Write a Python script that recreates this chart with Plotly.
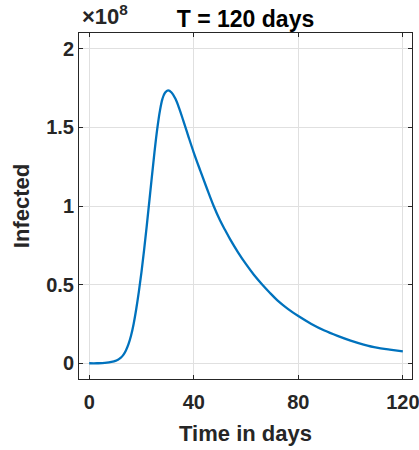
import plotly.graph_objects as go

# Data (infected counts in units of 1e8)
days = [0, 3, 6, 9, 10, 11, 12, 13, 14, 15, 16, 17, 18, 19, 20, 21, 22, 23,
        24, 25, 26, 27, 28, 29, 30.2, 31.5, 33, 34.5, 36, 38, 40, 42.5, 45,
        47.5, 50, 52, 54, 57, 60, 63, 66, 69, 72, 76, 80, 85, 90, 95, 100,
        105, 110, 115, 120]
infected_1e8 = [0, 0.0, 0.002, 0.01, 0.015, 0.022, 0.034, 0.052, 0.08, 0.12,
                0.175, 0.25, 0.345, 0.455, 0.58, 0.72, 0.87, 1.03, 1.19, 1.345,
                1.485, 1.60, 1.68, 1.72, 1.735, 1.722, 1.682, 1.618, 1.543, 1.44,
                1.34, 1.225, 1.113, 1.005, 0.911, 0.847, 0.786, 0.704, 0.630,
                0.563, 0.504, 0.450, 0.400, 0.346, 0.30, 0.25, 0.208, 0.174,
                0.144, 0.119, 0.099, 0.087, 0.076]

x_ticks = [0, 40, 80, 120]
y_ticks = [0, 0.5, 1, 1.5, 2]
y_tick_labels = ["0", "0.5", "1", "1.5", "2"]

title_text = "T = 120 days"
x_label = "Time in days"
y_label = "Infected"

FONT = "Liberation Sans, Arial, sans-serif"
TXT = "#262626"
GRID = "#e0e0e0"

fig = go.Figure()
fig.add_trace(go.Scatter(
    x=days, y=infected_1e8, mode="lines",
    line=dict(color="#0072BD", width=2.3, shape="spline", smoothing=1.0),
    showlegend=False, hoverinfo="skip"))

axis_common = dict(
    showline=True, linecolor=TXT, linewidth=1, mirror="ticks",
    ticks="inside", ticklen=4, tickcolor=TXT, tickwidth=1,
    showgrid=True, gridcolor=GRID, gridwidth=1, zeroline=False,
    automargin=False, ticklabeloverflow="allow",
    tickfont=dict(family=FONT, size=20, color=TXT, weight="bold"),
)

fig.update_layout(
    width=419, height=450,
    margin=dict(l=79, r=7, t=33, b=71),
    paper_bgcolor="white", plot_bgcolor="white",
    xaxis=dict(range=[-3.9, 123.5], tickvals=x_ticks, ticklabelstandoff=5,
               title=dict(text=x_label, standoff=13,
                          font=dict(family=FONT, size=22, color=TXT, weight="bold")),
               **axis_common),
    yaxis=dict(range=[-0.1, 2.1], tickvals=y_ticks, ticktext=y_tick_labels,
               title=dict(text=y_label, standoff=10,
                          font=dict(family=FONT, size=22, color=TXT, weight="bold")),
               **axis_common),
    title=dict(text=title_text, x=0.5, xref="paper", xanchor="center",
               y=1, yref="paper", yanchor="bottom", pad=dict(b=6),
               automargin=False,
               font=dict(family=FONT, size=23, color="#000000", weight="bold")),
    annotations=[dict(text="×10<sup>8</sup>", x=0, xref="paper", xanchor="left",
                      y=1, yref="paper", yanchor="bottom", yshift=2, xshift=1,
                      showarrow=False,
                      font=dict(family=FONT, size=22, color=TXT, weight="bold"))],
)

fig.write_html("out.html", config={"displayModeBar": False},
               post_script="document.body.style.margin='0';"
                           "document.body.style.overflow='hidden';")
